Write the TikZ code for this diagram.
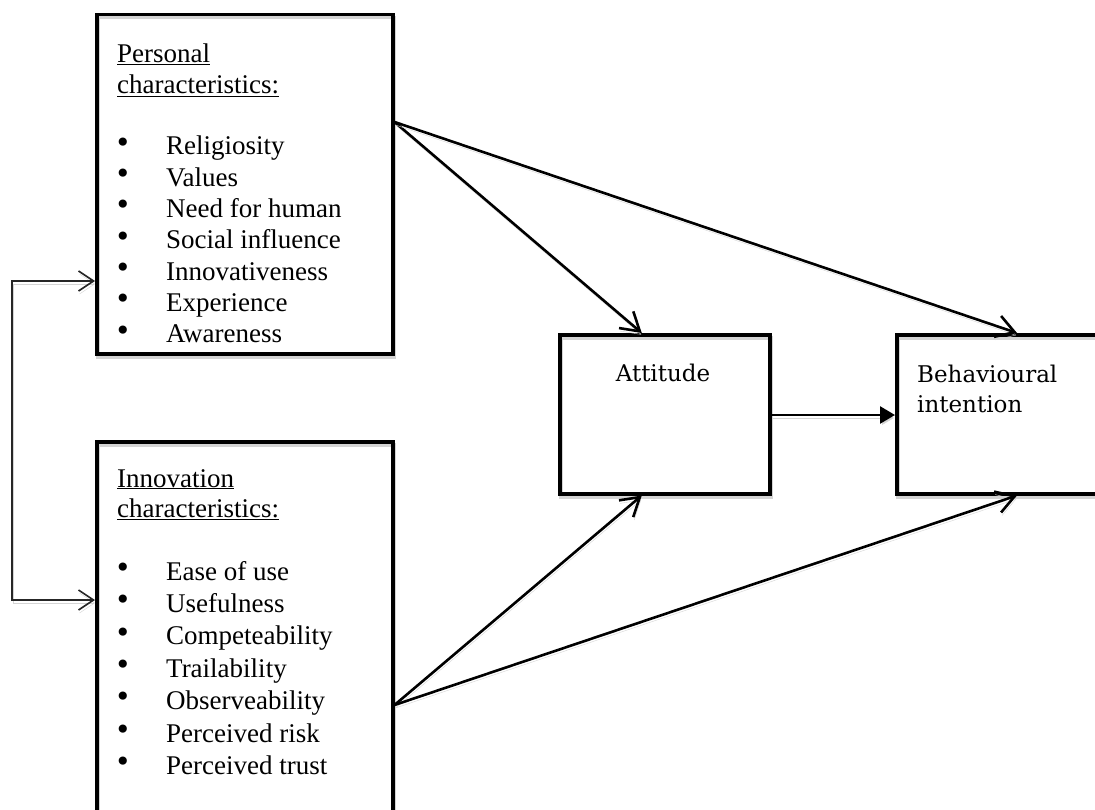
\documentclass[tikz,border=0pt]{standalone}
\usepackage{fontspec}
\setmainfont{Liberation Serif}
\newfontfamily\boxfont{DejaVu Serif}
\newfontfamily\bulfont{DejaVu Sans}
\usetikzlibrary{arrows.meta,calc}

\tikzset{
  shadowed/.style={preaction={draw=black!17, transform canvas={shift={(1pt,-3pt)}}}},
  factor/.style={draw, line width=3.5pt, shadowed, anchor=north west, inner sep=0pt},
  link/.style={line width=2.6pt, shadowed, -{Straight Barb[length=18pt,width=22pt]}},
  solidlink/.style={line width=2.6pt, shadowed, -{Triangle[length=15pt,width=17pt]}},
  loop/.style={line width=1.6pt, draw=black!85, shadowed, {Straight Barb[length=15pt,width=20pt]}-{Straight Barb[length=15pt,width=20pt]}},
  txt/.style={font=\fontsize{27pt}{31pt}\selectfont, inner sep=0pt, anchor=base west},
  bul/.style={font=\bulfont\fontsize{28pt}{31pt}\selectfont, inner sep=0pt, anchor=center},
  label/.style={font=\boxfont\fontsize{23pt}{30pt}\selectfont, inner sep=0pt}
}

\begin{document}
\begin{tikzpicture}[x=1pt, y=-1pt]
  \useasboundingbox (0,0) rectangle (1095,810);
  \clip (0,0) rectangle (1095,810);

  % boxes
  \node[factor, minimum width=296pt, minimum height=339pt] (pers) at (95,13) {};
  \node[factor, minimum width=296pt, minimum height=400pt] (innov) at (95,440) {};
  \node[factor, minimum width=210pt, minimum height=159pt] (att) at (558,333) {};
  \node[factor, minimum width=240pt, minimum height=159pt] (beh) at (895,333) {};

  % personal characteristics
  \node[txt] (ph1) at (117,63) {\underline{Personal}};
  \node[txt] (ph2) at (117,94) {\underline{characteristics:}};
  \foreach \entry [count=\i] in {Religiosity, Values, Need for human, Social influence,
      Innovativeness, Experience, Awareness} {
    \node[bul] (pb\i) at (123,{145+31.3*(\i-1)}) {•};
    \node[txt] (pi\i) at (166,{155+31.3*(\i-1)}) {\entry};
  }

  % innovation characteristics
  \node[txt] (ih1) at (117,487) {\underline{Innovation}};
  \node[txt] (ih2) at (117,517) {\underline{characteristics:}};
  \foreach \entry [count=\i] in {Ease of use, Usefulness, Competeability, Trailability,
      Observeability, Perceived risk, Perceived trust} {
    \node[bul] (ib\i) at (123,{570+32.4*(\i-1)}) {•};
    \node[txt] (ii\i) at (166,{580+32.4*(\i-1)}) {\entry};
  }

  % outcome labels
  \node[label, anchor=base] (attl) at (663,381) {Attitude};
  \node[label, anchor=base west] (behl1) at (917,382) {Behavioural};
  \node[label, anchor=base west] (behl2) at (917,412) {intention};

  % ports
  \coordinate (pers-out) at ($(pers.north east)+(0,109)$);
  \coordinate (innov-out) at ($(innov.north east)+(0,265)$);
  \coordinate (pers-in) at ($(pers.north west)+(0,268)$);
  \coordinate (innov-in) at ($(innov.north west)+(0,160)$);
  \coordinate (att-top) at ($(att.north)+(-23,0)$);
  \coordinate (att-bot) at ($(att.south)+(-23,0)$);
  \coordinate (beh-top) at ($(beh.north west)+(122,0)$);
  \coordinate (beh-bot) at ($(beh.south west)+(122,0)$);

  % connectors
  \draw[link] (pers-out) -- (att-top);
  \draw[link] (pers-out) -- (beh-top);
  \draw[link] (innov-out) -- (att-bot);
  \draw[link] (innov-out) -- (beh-bot);
  \draw[solidlink] (att.east |- 0,415) -- (beh.west |- 0,415);
  \draw[loop] (pers-in) -- ++(-83,0) |- (innov-in);
\end{tikzpicture}
\end{document}
